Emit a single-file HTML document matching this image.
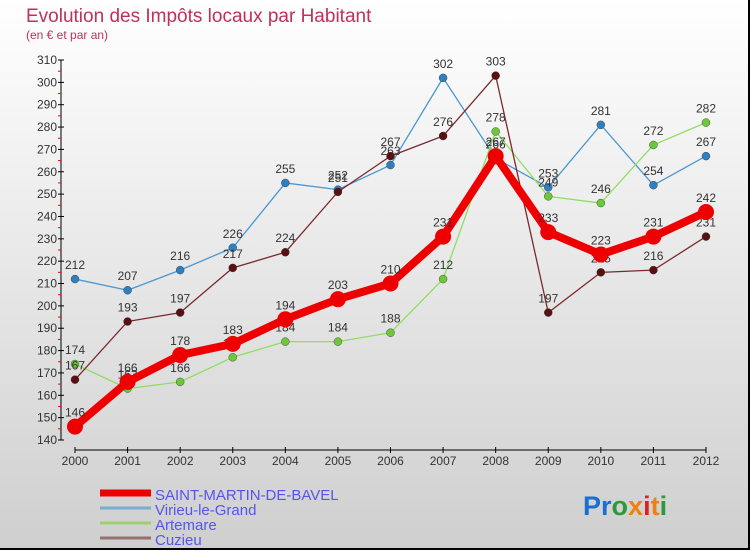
<!DOCTYPE html>
<html><head><meta charset="utf-8"><style>
html,body{margin:0;padding:0}
body{width:750px;height:550px;overflow:hidden;font-family:"Liberation Sans",sans-serif}
#wrap{position:relative;width:748px;height:548px;border-right:2px solid #000;border-bottom:2px solid #000;background:linear-gradient(#fff,#cfcfcf)}
</style></head><body>
<div id="wrap">
<svg id="chart" width="748" height="548" xmlns="http://www.w3.org/2000/svg">
<text x="26" y="22" font-size="19" fill="#c0305a">Evolution des Impôts locaux par Habitant</text>
<text x="26" y="39" font-size="12" fill="#c0305a">(en € et par an)</text>
<g id="axes"></g><g id="series"></g><g id="legend"></g>
<text x="583" y="515" font-size="27" font-weight="bold"><tspan fill="#1a6fd0">Pr</tspan><tspan fill="#2a9a3a">o</tspan><tspan fill="#f08010">x</tspan><tspan fill="#e02020">i</tspan><tspan fill="#f08010">t</tspan><tspan fill="#2a9a3a">i</tspan></text>
</svg>
</div>
<script>
const years=[2000,2001,2002,2003,2004,2005,2006,2007,2008,2009,2010,2011,2012];
const yTicks=[140,150,160,170,180,190,200,210,220,230,240,250,260,270,280,290,300,310];
const saintMartin=[146,166,178,183,194,203,210,231,267,233,223,231,242];
const virieu=[212,207,216,226,255,252,263,302,266,253,281,254,267];
const artemare=[174,163,166,177,184,184,188,212,278,249,246,272,282];
const cuzieu=[167,193,197,217,224,251,267,276,303,197,215,216,231];
const seriesNames=["SAINT-MARTIN-DE-BAVEL","Virieu-le-Grand","Artemare","Cuzieu"];
const NS="http://www.w3.org/2000/svg";
const x=i=>75+i*(706-75)/(years.length-1);
const y=v=>440-(v-140)*380/170;
function mk(tag,attrs,parent){const e=document.createElementNS(NS,tag);for(const k in attrs)e.setAttribute(k,attrs[k]);parent.appendChild(e);return e;}
const axes=document.getElementById('axes');
let ya=mk('line',{x1:61,y1:y(310),x2:61,y2:y(140),stroke:'#000','stroke-width':1},axes);


yTicks.forEach(v=>{
  mk('line',{x1:58,x2:64,y1:y(v),y2:y(v),stroke:'#000'},axes);
  if(v<310)mk('line',{x1:58,x2:61,y1:y(v+5),y2:y(v+5),stroke:'#f00'},axes);
  const t=mk('text',{x:57,y:y(v)+4,'font-size':12,fill:'#333','text-anchor':'end'},axes);
  t.textContent=v;
  
  
});
let xa=mk('line',{x1:x(0),y1:450,x2:x(12),y2:450,stroke:'#000'},axes);


years.forEach((yr,i)=>{
  mk('line',{x1:x(i),x2:x(i),y1:447,y2:453,stroke:'#000'},axes);
  const t=mk('text',{x:x(i),y:465,'font-size':12,fill:'#333','text-anchor':'middle'},axes);
  t.textContent=yr;
  
  
});
const sg=document.getElementById('series');
const defs=[[virieu,'#4a98d0','#2f80c0',1.3,4],[artemare,'#90dd60','#6cc83a',1.3,4],[cuzieu,'#7a2a2a','#5a1010',1.3,4],[saintMartin,'#ee0000','#ee0000',8,8]];
const order=[1,2,3,0];
defs.forEach((d,k)=>{
  const [vals,lc,pc,w,r]=d;
  const g=mk('g',{},sg);
  
  
  const pl=mk('polyline',{points:vals.map((v,i)=>x(i)+','+y(v)).join(' '),fill:'none',stroke:lc,'stroke-width':w,'stroke-linejoin':'round'},g);
  
  
  vals.forEach((v,i)=>{
    const c=mk('circle',{cx:x(i),cy:y(v),r:r,fill:pc,stroke:r>5?'none':'#333','stroke-width':0.4},g);
    
    
    const t=mk('text',{x:x(i),y:y(v)-10,'font-size':12,fill:'#333','text-anchor':'middle'},g);
    t.textContent=v;
    
    
  });
});
const lg=document.getElementById('legend');
const lcols=['#ee0000','#7aaed0','#9fd070','#957070'];const lw=[7,3,3,3];
seriesNames.forEach((n,i)=>{
  const yy=493+i*15;
  const g=mk('g',{},lg);
  
  
  mk('line',{x1:100,x2:151,y1:yy,y2:yy,stroke:lcols[i],'stroke-width':lw[i]},g);
  const t=mk('text',{x:155,y:yy+7,'font-size':15,fill:'#5555ee'},g);
  t.textContent=n;
});
</script>
</body></html>
